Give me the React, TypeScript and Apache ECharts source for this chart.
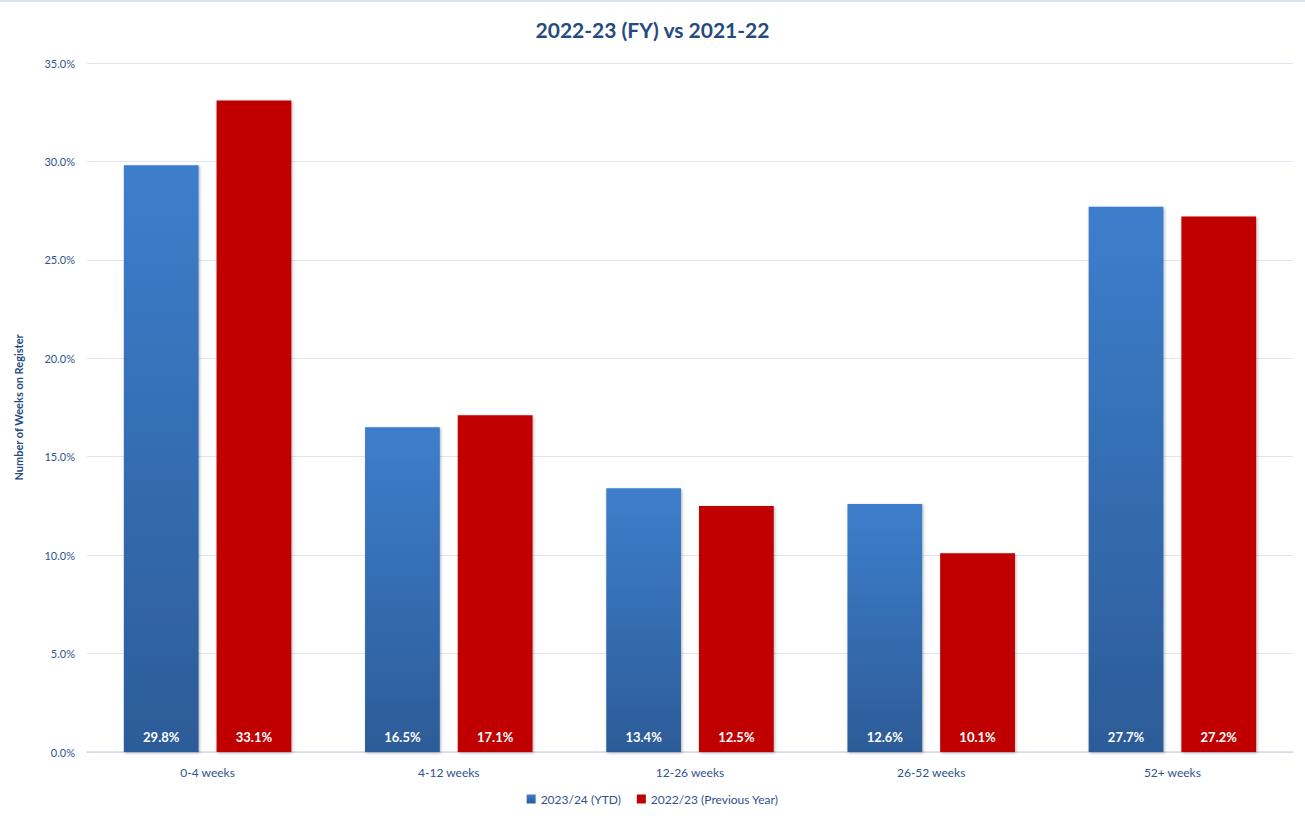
import React, { useEffect, useRef } from "react";
import * as echarts from "echarts";

const categories = ["0-4 weeks", "4-12 weeks", "12-26 weeks", "26-52 weeks", "52+ weeks"];
const ytdValues = [29.8, 16.5, 13.4, 12.6, 27.7];
const prevValues = [33.1, 17.1, 12.5, 10.1, 27.2];
const seriesNames = ["2023/24 (YTD)", "2022/23 (Previous Year)"];
const titleText = "2022-23 (FY) vs 2021-22";
const yAxisName = "Number of Weeks on Register";

const FONT = "Lato, 'Open Sans', sans-serif";
const TEXT = "#2F528F";

export default function App() {
  const ref = useRef<HTMLDivElement>(null);
  useEffect(() => {
    document.body.style.margin = "0";
    const chart = echarts.init(ref.current!, undefined, { renderer: "svg" });
    const blueGrad = new echarts.graphic.LinearGradient(0, 0, 0, 1, [
      { offset: 0, color: "#3D7ECC" },
      { offset: 1, color: "#2C5C98" },
    ]);
    const labelCfg = {
      show: true,
      position: "insideBottom" as const,
      distance: 9,
      color: "#FFFFFF",
      fontWeight: "bold" as const,
      fontSize: 13,
      fontFamily: FONT,
      formatter: (p: any) => p.value.toFixed(1) + "%",
    };
    chart.setOption({
      animation: false,
      backgroundColor: "#FFFFFF",
      title: {
        text: titleText,
        left: "center",
        top: 14,
        textStyle: { fontSize: 21, fontWeight: "bold", color: "#254A7E", fontFamily: FONT },
      },
      graphic: [
        {
          type: "line",
          shape: { x1: 0, y1: 1, x2: 1305, y2: 1 },
          style: { stroke: "#DCE4F0", lineWidth: 2 },
        },
      ],
      legend: {
        bottom: 6,
        left: "center",
        itemWidth: 9,
        itemHeight: 9,
        itemGap: 16,
        icon: "rect",
        textStyle: { color: TEXT, fontSize: 12, fontFamily: FONT },
        data: seriesNames,
      },
      grid: { left: 87, right: 12, top: 63, bottom: 64 },
      xAxis: {
        type: "category",
        data: categories,
        axisLine: { lineStyle: { color: "#D0DAEA", width: 1.5 } },
        axisTick: { show: false },
        axisLabel: { color: TEXT, fontSize: 12, fontFamily: FONT, margin: 14 },
      },
      yAxis: {
        type: "value",
        min: 0,
        max: 35,
        interval: 5,
        name: yAxisName,
        nameLocation: "middle",
        nameGap: 63,
        nameTextStyle: { color: "#254A7E", fontSize: 11, fontWeight: "bold", fontFamily: FONT },
        axisLabel: {
          color: TEXT,
          fontSize: 11,
          fontFamily: FONT,
          margin: 12,
          formatter: (v: number) => v.toFixed(1) + "%",
        },
        splitLine: { lineStyle: { color: "#DCE6F2", width: 1 } },
        axisLine: { show: false },
        axisTick: { show: false },
      },
      series: [
        {
          name: seriesNames[0],
          type: "bar",
          data: ytdValues,
          barWidth: "31%",
          barGap: "24%",
          itemStyle: {
            color: blueGrad,
            shadowBlur: 3,
            shadowColor: "rgba(0,0,0,0.3)",
            shadowOffsetX: 1,
            shadowOffsetY: 1,
          },
          label: labelCfg,
        },
        {
          name: seriesNames[1],
          type: "bar",
          data: prevValues,
          barWidth: "31%",
          itemStyle: {
            color: "#C00000",
            shadowBlur: 3,
            shadowColor: "rgba(0,0,0,0.3)",
            shadowOffsetX: 1,
            shadowOffsetY: 1,
          },
          label: labelCfg,
        },
      ],
    });
    return () => chart.dispose();
  }, []);
  return (
    <div
      ref={ref}
      style={{ position: "absolute", left: 0, top: 0, width: 1305, height: 816 }}
    />
  );
}
